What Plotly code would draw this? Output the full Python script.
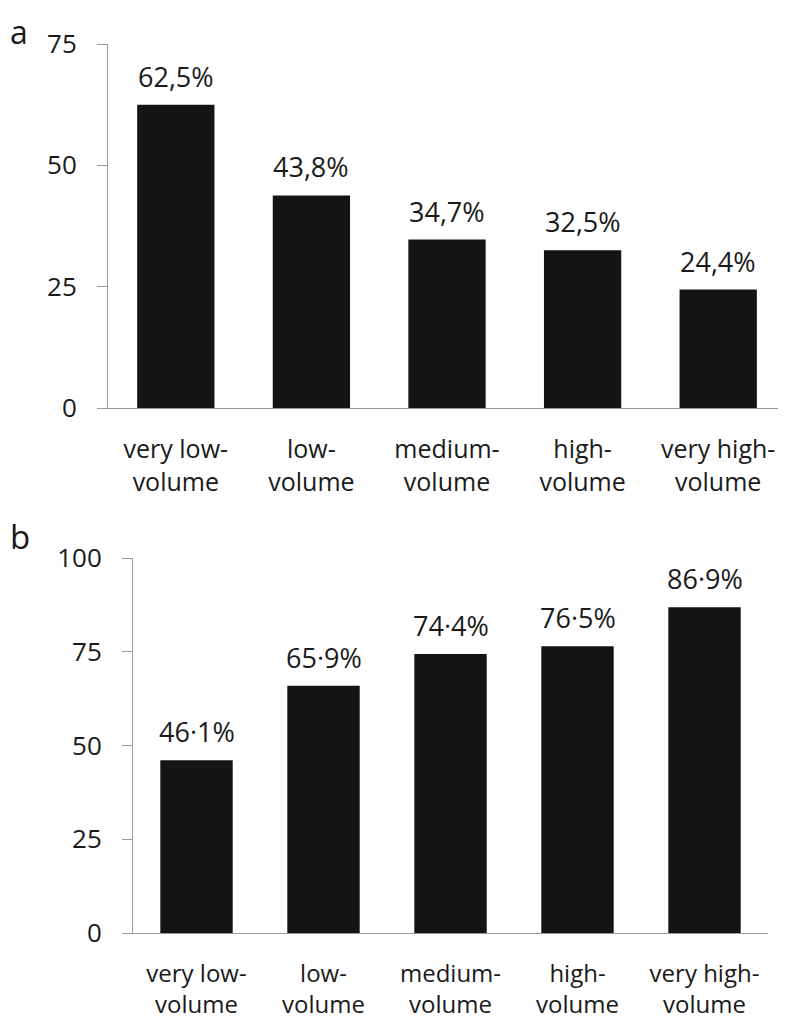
import plotly.graph_objects as go

categories = ["very low-<br>volume", "low-<br>volume", "medium-<br>volume", "high-<br>volume", "very high-<br>volume"]
values_a = [62.5, 43.8, 34.7, 32.5, 24.4]
labels_a = ["62,5%", "43,8%", "34,7%", "32,5%", "24,4%"]
values_b = [46.1, 65.9, 74.4, 76.5, 86.9]
labels_b = ["46·1%", "65·9%", "74·4%", "76·5%", "86·9%"]
ticks_a = [0, 25, 50, 75]
ticks_b = [0, 25, 50, 75, 100]

FONT = "Open Sans"
W, H = 786, 1022
OFF = 8  # page offset of the figure inside the browser window
BAR = "#141414"
AX = "#9a9a9a"
TXT = "#1a1a1a"


def px_x(p):
    return (p - OFF) / W


def px_y(p):
    return 1 - (p - OFF) / H


fig = go.Figure()
fig.add_trace(go.Bar(x=categories, y=values_a, marker=dict(color=BAR, line=dict(width=0)),
                     width=0.57, hoverinfo="x+y", xaxis="x", yaxis="y"))
fig.add_trace(go.Bar(x=categories, y=values_b, marker=dict(color=BAR, line=dict(width=0)),
                     width=0.57, hoverinfo="x+y", xaxis="x2", yaxis="y2"))


def yax(domain, anchor, rng, ticks):
    return dict(domain=domain, anchor=anchor, range=rng, tickvals=ticks,
                showgrid=False, zeroline=False, showline=True, linecolor=AX, linewidth=1,
                ticks="outside", ticklen=10, tickcolor=AX, tickwidth=1,
                ticklabelstandoff=15, automargin=False,
                tickfont=dict(size=26, color=TXT, family=FONT))


def xax(domain, anchor, fs):
    return dict(domain=domain, anchor=anchor, showgrid=False, zeroline=False,
                showline=True, linecolor=AX, linewidth=1, ticks="",
                ticklabelstandoff=19, automargin=False,
                tickfont=dict(size=fs, color=TXT, family=FONT))


annotations = [
    dict(text="a", x=0, y=1, xref="paper", yref="paper", xanchor="left", yanchor="top",
         showarrow=False, font=dict(size=32, family=FONT, color=TXT)),
    dict(text="b", x=0, y=px_y(512), xref="paper", yref="paper", xanchor="left", yanchor="top",
         showarrow=False, font=dict(size=33, family=FONT, color=TXT)),
]
for c, v, t in zip(categories, values_a, labels_a):
    annotations.append(dict(text=t, x=c, y=v, xref="x", yref="y", xanchor="center", yanchor="bottom",
                            yshift=8, showarrow=False, font=dict(size=27, family=FONT, color=TXT)))
for c, v, t in zip(categories, values_b, labels_b):
    annotations.append(dict(text=t, x=c, y=v, xref="x2", yref="y2", xanchor="center", yanchor="bottom",
                            yshift=8, showarrow=False, font=dict(size=27, family=FONT, color=TXT)))

fig.update_layout(
    width=W, height=H, margin=dict(l=0, r=0, t=0, b=0, pad=0, autoexpand=False),
    paper_bgcolor="white", plot_bgcolor="white", showlegend=False,
    bargap=0.43,
    font=dict(family=FONT, size=25, color=TXT),
    xaxis=xax([px_x(108), px_x(786)], "y", 25),
    yaxis=yax([px_y(408), px_y(44)], "x", [0, 75], ticks_a),
    xaxis2=xax([px_x(133), px_x(768)], "y2", 24),
    yaxis2=yax([px_y(933), px_y(558)], "x2", [0, 100], ticks_b),
    annotations=annotations,
)

fig.write_html("out.html")
